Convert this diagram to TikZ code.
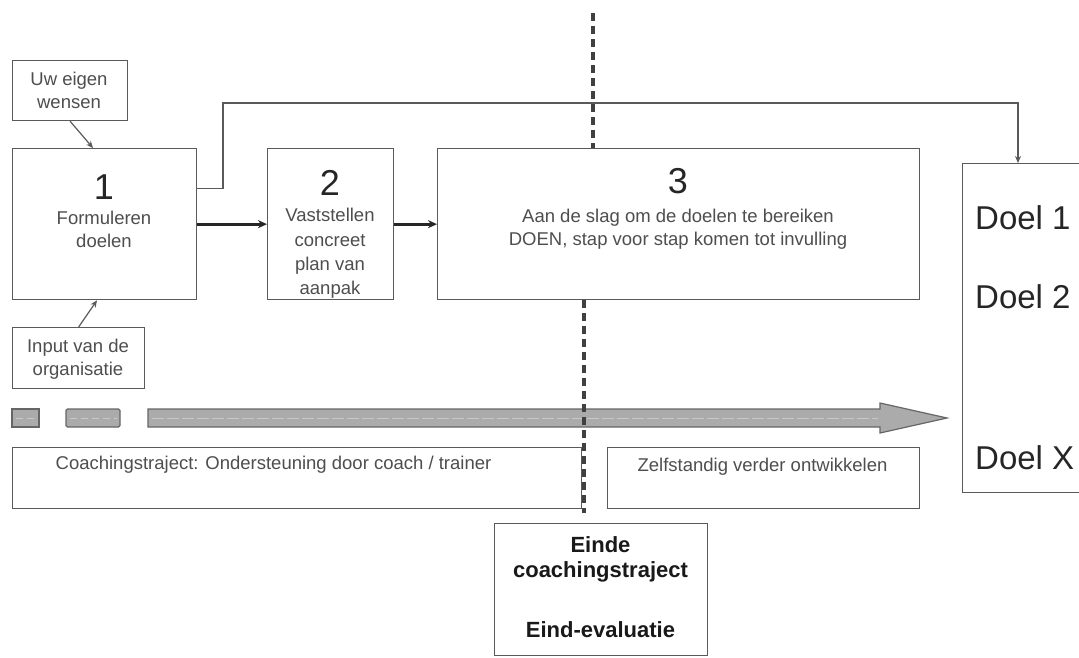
\documentclass[tikz,border=0pt]{standalone}
\usepackage{fontspec}
\setmainfont{Liberation Sans}
\usetikzlibrary{arrows.meta}
\definecolor{ln}{HTML}{5A5A5A}
\definecolor{tx}{HTML}{4E4E4E}
\definecolor{bar}{HTML}{ABABAB}
\begin{document}
\begin{tikzpicture}[x=1pt,y=-1pt,
  box/.style={draw=ln, line width=1.3pt, fill=white, inner sep=0pt, anchor=north west},
  small/.style={text=tx, font=\fontsize{18.5}{23}\selectfont, align=center, inner sep=0pt},
  big/.style={text=black!85, font=\fontsize{36}{40}\selectfont, inner sep=0pt},
  goal/.style={text=black!85, font=\fontsize{33}{38}\selectfont, anchor=west, inner sep=0pt},
  bold/.style={text=black!90, font=\bfseries\fontsize{22}{25}\selectfont, align=center, inner sep=0pt},
  thin/.style={draw=ln, line width=1.2pt, -{Stealth[length=7pt,width=6pt]}},
  thick/.style={draw=black!85, line width=2.8pt, -{Stealth[length=9pt,width=8pt]}},
  vdash/.style={draw=black!75, line width=3.2pt, dash pattern=on 8pt off 5pt},
  barstyle/.style={draw=black!60, line width=1.2pt, fill=bar},
]
\path[fill=white] (0,0) rectangle (1079,657);
\useasboundingbox (0,0) rectangle (1079,657);

% boxes
\node[box, minimum width=115, minimum height=60] (wens) at (12,60) {};
\node[box, minimum width=184, minimum height=151] (b1) at (12,148) {};
\node[box, minimum width=132, minimum height=61] (inp) at (12,327) {};
\node[box, minimum width=126, minimum height=151] (b2) at (267,148) {};
\node[box, minimum width=482, minimum height=151] (b3) at (437,148) {};
\node[box, minimum width=130, minimum height=329] (goals) at (962,163) {};
\node[box, minimum width=569, minimum height=61] (coach) at (12,447) {};
\node[box, minimum width=312, minimum height=61] (zelf) at (607,447) {};
\node[box, minimum width=213, minimum height=132] (einde) at (494,523) {};

% texts
\node[small] (twens) at (69,90.5) {Uw eigen\\wensen};
\node[big] (n1) at (104,187) {1};
\node[small] (t1) at (104,229) {Formuleren\\doelen};
\node[small] (tinp) at (78,359) {Input van de\\organisatie};
\node[big] (n2) at (330,183) {2};
\node[small, font=\fontsize{18.5}{24.3}\selectfont] (t2) at (330,253.5) {Vaststellen\\concreet\\plan van\\aanpak};
\node[big] (n3) at (678,181) {3};
\node[small] (t3) at (678,229) {Aan de slag om de doelen te bereiken\\DOEN, stap voor stap komen tot invulling};
\node[goal] (g1) at (975,218) {Doel 1};
\node[goal] (g2) at (975,297) {Doel 2};
\node[goal] (gx) at (975,458) {Doel X};
\node[small] (tcoach) at (273.5,465) {Coachingstraject: Ondersteuning door coach / trainer};
\node[small] (tzelf) at (762.5,467) {Zelfstandig verder ontwikkelen};
\node[bold] (te1) at (600.5,559.5) {Einde\\coachingstraject};
\node[bold] (te2) at (600.5,630) {Eind-evaluatie};

% gray process arrow and small bars
\draw[barstyle] (12,409) rectangle (39,427);
\draw[barstyle, rounded corners=1.5pt] (66,409) rectangle (120,427);
\draw[barstyle] (148,409) -- (880,409) -- (880,403) -- (947,418) -- (880,433) -- (880,427) -- (148,427) -- cycle;
\draw[white!35!bar, line width=1pt, dash pattern=on 12pt off 3pt] (152,418) -- (878,418);
\draw[white!35!bar, line width=0.8pt, dash pattern=on 7pt off 4pt] (16,418) -- (36,418) (70,418) -- (117,418);

% connectors
\draw[thin] (wens.south) -- ([xshift=81pt]b1.north west);
\draw[thin] (inp.north) -- ([xshift=85pt]b1.south west);
\draw[thick] (b1.east) -- (b2.west);
\draw[thick] (b2.east) -- (b3.west);
\coordinate (fb) at (223,103);
\coordinate (gtop) at ([xshift=56pt]goals.north west);
\draw[thin] ([yshift=35.5pt]b1.east) -| (fb) -- (fb -| gtop) -- (gtop);

% dashed separator
\coordinate (dtop) at (593,13);
\coordinate (dbot) at (584,513);
\draw[vdash] (dtop) -- (dtop |- b3.north);
\draw[vdash] (dbot |- b3.south) -- (dbot);
\end{tikzpicture}
\end{document}
